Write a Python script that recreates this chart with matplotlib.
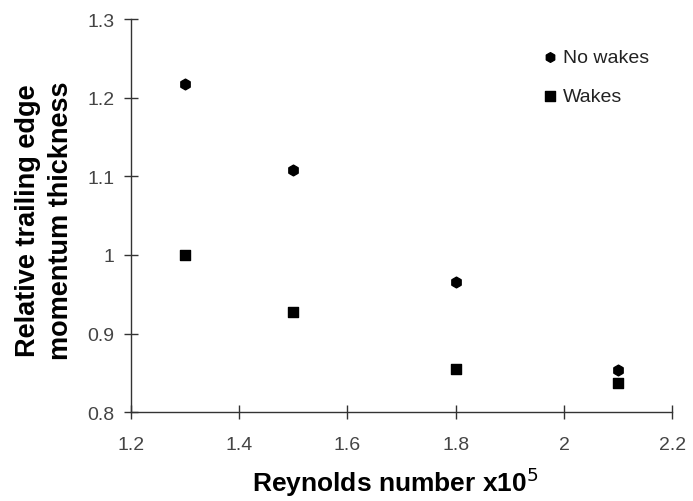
import matplotlib
matplotlib.use("Agg")
import matplotlib.pyplot as plt

plt.rcParams['font.family'] = ['Liberation Sans', 'DejaVu Sans']

reynolds = [1.3, 1.5, 1.8, 2.1]
no_wakes = [1.217, 1.108, 0.965, 0.854]
wakes = [1.000, 0.928, 0.855, 0.837]
xticks = [1.2, 1.4, 1.6, 1.8, 2.0, 2.2]
xticklabels = ['1.2', '1.4', '1.6', '1.8', '2', '2.2']
yticks = [0.8, 0.9, 1.0, 1.1, 1.2, 1.3]
yticklabels = ['0.8', '0.9', '1', '1.1', '1.2', '1.3']

fig = plt.figure(figsize=(6.93, 5.02), dpi=100)
ax = fig.add_axes([0.189, 0.177, 0.781, 0.783])

ax.scatter(reynolds, no_wakes, marker='h', s=60, color='black', label='No wakes', zorder=3)
ax.scatter(reynolds, wakes, marker='s', s=60, color='black', label='Wakes', zorder=3)

ax.set_xlim(1.2, 2.2)
ax.set_ylim(0.8, 1.3)
ax.set_xticks(xticks)
ax.set_xticklabels(xticklabels)
ax.set_yticks(yticks)
ax.set_yticklabels(yticklabels)

for s in ['top', 'right']:
    ax.spines[s].set_visible(False)
for s in ['left', 'bottom']:
    ax.spines[s].set_color('#333333')
    ax.spines[s].set_linewidth(1.0)

ax.tick_params(axis='both', direction='inout', length=10, width=1.0, color='#333333',
               labelsize=14, labelcolor='#444444')
ax.tick_params(axis='x', pad=12)
ax.tick_params(axis='y', pad=7)

ax.set_xlabel('Reynolds number x10$^5$', fontsize=19, fontweight='bold')
ax.xaxis.set_label_coords(0.488, -0.133)
ax.set_ylabel('Relative trailing edge\nmomentum thickness', fontsize=19.5, fontweight='bold',
              linespacing=1.35)
ax.yaxis.set_label_coords(-0.105, 0.49)

leg = ax.legend(loc='upper right', bbox_to_anchor=(0.99, 0.97), frameon=False, fontsize=14,
                handlelength=1.0, handletextpad=0.2, labelspacing=1.1, markerscale=0.9)
for t in leg.get_texts():
    t.set_color('#222222')

fig.savefig('out.png', dpi=100)
